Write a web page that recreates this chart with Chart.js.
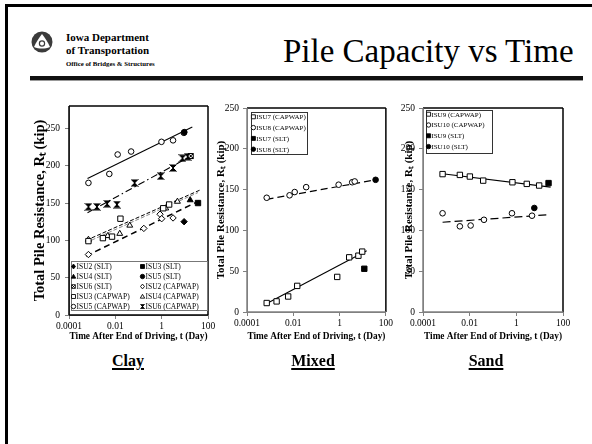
<!DOCTYPE html>
<html><head><meta charset="utf-8">
<script src="https://cdn.jsdelivr.net/npm/chart.js@4/dist/chart.umd.min.js"></script>
<style>
html,body{margin:0;padding:0;background:#fff;}
body{width:592px;height:444px;position:relative;overflow:hidden;font-family:'Liberation Serif','Times New Roman',serif;color:#000;}
.abs{position:absolute;white-space:nowrap;}
canvas{position:absolute;}
.cat{position:absolute;top:352px;font-weight:bold;font-size:16px;line-height:18px;text-decoration:underline;text-decoration-thickness:2px;text-underline-offset:2px;transform:translateX(-50%);white-space:nowrap;}
</style></head><body>
<div class="abs" style="left:5px;top:4px;width:3px;height:440px;background:#000"></div>
<div class="abs" style="left:5px;top:4px;width:587px;height:3px;background:#000"></div>
<svg class="abs" style="left:31px;top:31px" width="22" height="22" viewBox="0 0 22 22">
  <circle cx="11" cy="11" r="10.5" fill="#3b3b3b"/>
  <path d="M11 3 C14 7 17 11 19 16 C14 18 8 18 3 16 C5 11 8 7 11 3Z" fill="#fff"/>
  <circle cx="11" cy="12.5" r="2.6" fill="none" stroke="#3b3b3b" stroke-width="1.2"/>
</svg>
<div class="abs" style="left:66px;top:31px;font-weight:bold;font-size:11px;line-height:13px">Iowa Department<br>of Transportation</div>
<div class="abs" style="left:66px;top:60px;font-weight:bold;font-size:6.8px;line-height:8px">Office of Bridges &amp; Structures</div>
<div class="abs" style="left:283px;top:35px;font-size:33px;line-height:33px">Pile Capacity vs Time</div>
<div class="abs" style="left:30px;top:76px;width:553px;height:4px;background:#111"></div>
<div class="abs" style="left:30px;top:80px;width:553px;height:1px;background:#999"></div>

<canvas id="clay" width="222" height="260" style="left:0px;top:90px"></canvas>
<canvas id="mixed" width="205" height="260" style="left:190px;top:90px"></canvas>
<canvas id="sand" width="205" height="260" style="left:370px;top:90px"></canvas>

<div class="cat" style="left:128px">Clay</div>
<div class="cat" style="left:313px">Mixed</div>
<div class="cat" style="left:486px">Sand</div>

<script>
// ---- axis ticks ----
const xTickValues = [0.0001, 0.01, 1, 100];
const xTickLabels = ['0.0001', '0.01', '1', '100'];
const yTickValues = [0, 50, 100, 150, 200, 250];

// ---- Clay (t in days, R in kip) ----
const clayIsu2SltT = [9.3];   const clayIsu2SltR = [125];
const clayIsu3SltT = [37];    const clayIsu3SltR = [150];
const clayIsu4SltT = [17];    const clayIsu4SltR = [154];
const clayIsu5SltT = [9.5];   const clayIsu5SltR = [245];
const clayIsu6SltT = [18];    const clayIsu6SltR = [213];
const clayIsu2CapT = [0.00069, 0.17, 0.85, 1.0, 3.1];
const clayIsu2CapR = [81, 116, 135, 129, 130];
const clayIsu3CapT = [0.00069, 0.0029, 0.0072, 0.0166, 1.17, 2.1];
const clayIsu3CapR = [99, 103, 105, 129, 143, 148];
const clayIsu4CapT = [0.00069, 0.0047, 0.0155, 0.042, 1.5, 4.8];
const clayIsu4CapR = [101, 106, 109, 120, 143, 152];
const clayIsu5CapT = [0.00069, 0.0055, 0.0126, 0.048, 0.98, 3.1, 9.1];
const clayIsu5CapR = [177, 189, 215, 219, 232, 234, 244];
const clayIsu6CapT = [0.00069, 0.0016, 0.0044, 0.0117, 0.068, 0.91, 3.1, 7.9, 13.2];
const clayIsu6CapR = [145, 145, 149, 148, 177, 186, 197, 210, 212];
// trend lines (end points)
const clayIsu5TrendT = [0.00063, 21];  const clayIsu5TrendR = [183, 252];
const clayIsu6TrendT = [0.00063, 21];  const clayIsu6TrendR = [137, 214];
const clayIsu4TrendT = [0.00055, 50];  const clayIsu4TrendR = [100, 168];
const clayIsu3TrendT = [0.00055, 37];  const clayIsu3TrendR = [97, 164];
const clayIsu2TrendT = [0.00055, 42];  const clayIsu2TrendR = [79, 153];

// ---- Mixed ----
const mixIsu7CapT = [0.00071, 0.0019, 0.006, 0.0148, 0.79, 2.6, 6.5, 9.5];
const mixIsu7CapR = [11, 13, 19, 32, 43, 67, 69, 74];
const mixIsu8CapT = [0.00071, 0.0069, 0.0115, 0.036, 0.91, 3.5, 4.5];
const mixIsu8CapR = [140, 143, 147, 153, 156, 159, 160];
const mixIsu7SltT = [11.7];  const mixIsu7SltR = [53];
const mixIsu8SltT = [36];    const mixIsu8SltR = [162];
const mixIsu7TrendT = [0.00068, 14.8]; const mixIsu7TrendR = [10, 75];
const mixIsu8TrendT = [0.0007, 36];    const mixIsu8TrendR = [138, 162];

// ---- Sand ----
const sandIsu9CapT = [0.00069, 0.0038, 0.0102, 0.038, 0.68, 2.8, 9.5];
const sandIsu9CapR = [169, 168, 166, 161, 159, 157, 155];
const sandIsu10CapT = [0.00069, 0.0038, 0.011, 0.041, 0.65, 4.7];
const sandIsu10CapR = [121, 105, 106, 113, 121, 118];
const sandIsu9SltT = [24];   const sandIsu9SltR = [158];
const sandIsu10SltT = [5.9]; const sandIsu10SltR = [127.5];
const sandIsu9TrendT = [0.00069, 29.5];  const sandIsu9TrendR = [169.5, 153];
const sandIsu10TrendT = [0.00069, 19.5]; const sandIsu10TrendR = [110, 119];

// ---------------------------------------------------------------
const FONT = "'Liberation Serif','Times New Roman',serif";
function pts(t, R) { return t.map((x, i) => ({x: x, y: R[i]})); }

function makeImg(size, draw) {
  const c = document.createElement('canvas');
  c.width = size; c.height = size;
  draw(c.getContext('2d'), size);
  return c;
}
const hourglass = makeImg(8, (g) => {
  g.fillStyle = '#000'; g.strokeStyle = '#000'; g.lineWidth = 1;
  g.beginPath(); g.moveTo(0.5, 0.5); g.lineTo(7.5, 0.5); g.lineTo(4, 4); g.closePath(); g.fill();
  g.beginPath(); g.moveTo(0.5, 7.5); g.lineTo(7.5, 7.5); g.lineTo(4, 4); g.closePath(); g.fill();
  g.beginPath(); g.moveTo(0.5, 0.5); g.lineTo(7.5, 7.5); g.moveTo(7.5, 0.5); g.lineTo(0.5, 7.5); g.stroke();
});
const boxX = makeImg(8, (g) => {
  g.fillStyle = '#fff'; g.fillRect(1, 1, 6, 6);
  g.strokeStyle = '#000'; g.lineWidth = 1;
  g.strokeRect(1.5, 1.5, 5, 5);
  g.beginPath(); g.moveTo(1.5, 1.5); g.lineTo(6.5, 6.5); g.moveTo(6.5, 1.5); g.lineTo(1.5, 6.5); g.stroke();
});

const RAD = {circle: 2.8, rect: 3.8, triangle: 3.4, rectRot: 3.2};
function markDs(label, t, R, style, filled) {
  const r = (typeof style === 'string') ? RAD[style] : 4;
  return {label: label, data: pts(t, R), showLine: false, order: 0,
    pointStyle: style, pointRadius: r, pointHoverRadius: r,
    pointBackgroundColor: filled ? '#000' : '#fff', pointBorderColor: '#000', pointBorderWidth: 1,
    _filled: filled};
}
function trendDs(label, t, R, dash, color, width) {
  return {label: label, data: pts(t, R), showLine: true, order: 1, pointRadius: 0, pointHoverRadius: 0,
    borderColor: color, borderWidth: width, borderDash: dash, fill: false, _trend: true};
}

function drawMarker(ctx, style, cx, cy, r, filled) {
  if (style instanceof HTMLCanvasElement) {
    const s = r * 2.6;
    ctx.drawImage(style, cx - s / 2, cy - s / 2, s, s);
    return;
  }
  ctx.beginPath();
  if (style === 'circle') ctx.arc(cx, cy, r, 0, Math.PI * 2);
  else if (style === 'rect') ctx.rect(cx - r * 0.9, cy - r * 0.9, r * 1.8, r * 1.8);
  else if (style === 'triangle') { ctx.moveTo(cx, cy - r); ctx.lineTo(cx + r, cy + r * 0.75); ctx.lineTo(cx - r, cy + r * 0.75); ctx.closePath(); }
  else if (style === 'rectRot') { ctx.moveTo(cx, cy - r * 1.1); ctx.lineTo(cx + r * 0.9, cy); ctx.lineTo(cx, cy + r * 1.1); ctx.lineTo(cx - r * 0.9, cy); ctx.closePath(); }
  ctx.fillStyle = filled ? '#000' : '#fff'; ctx.fill();
  ctx.strokeStyle = '#000'; ctx.lineWidth = 0.9; ctx.stroke();
}

const boxLegendPlugin = {
  id: 'boxLegend',
  afterDraw(chart, args, o) {
    if (!o || !o.items) return;
    const ca = chart.chartArea, ctx = chart.ctx;
    const x0 = ca.left + o.x, y0 = ca.top + o.y;
    ctx.save();
    ctx.fillStyle = '#fff'; ctx.fillRect(x0, y0, o.w, o.h);
    ctx.strokeStyle = o.border; ctx.lineWidth = 1;
    ctx.strokeRect(Math.round(x0) + 0.5, Math.round(y0) + 0.5, o.w, o.h);
    ctx.font = o.font + 'px ' + FONT; ctx.textBaseline = 'middle'; ctx.textAlign = 'left';
    o.items.forEach((lab, i) => {
      const ds = chart.data.datasets.find(d => d.label === lab);
      const col = i % o.cols, row = Math.floor(i / o.cols);
      const cx = x0 + o.markerX + col * o.colW, cy = y0 + o.firstRow + row * o.rowH;
      drawMarker(ctx, ds.pointStyle, cx, cy, o.markerR, ds._filled);
      ctx.fillStyle = '#000';
      ctx.fillText(lab, cx + o.textGap, cy + 0.5);
    });
    ctx.restore();
  }
};
const framePlugin = {
  id: 'frame',
  afterDatasetsDraw(chart, args, o) {
    const {left, top, right, bottom} = chart.chartArea, ctx = chart.ctx;
    ctx.save(); ctx.lineWidth = o.width;
    const seg = (c, x1, y1, x2, y2) => { ctx.strokeStyle = c; ctx.beginPath(); ctx.moveTo(x1, y1); ctx.lineTo(x2, y2); ctx.stroke(); };
    seg(o.top, left, top, right, top);
    seg(o.right, right, top, right, bottom);
    seg(o.bottom, left, bottom, right, bottom);
    seg(o.left, left, top, left, bottom);
    ctx.restore();
  }
};

function makeChart(id, c) {
  return new Chart(document.getElementById(id), {
    type: 'scatter',
    data: {datasets: c.datasets},
    options: {
      responsive: false, animation: false, devicePixelRatio: 1,
      layout: {padding: c.padding},
      events: [],
      plugins: {legend: {display: false}, tooltip: {enabled: false}, boxLegend: c.legend, frame: c.frame},
      scales: {
        x: {
          type: 'logarithmic', min: 0.0001, max: 100,
          afterBuildTicks: (s) => { s.ticks = xTickValues.map(v => ({value: v})); },
          afterFit: (s) => { s.height = c.xH; },
          ticks: {autoSkip: false, maxRotation: 0, minRotation: 0, padding: 2, color: '#000',
            font: {family: FONT, size: 9.5},
            callback: (v) => { const i = xTickValues.indexOf(v); return i >= 0 ? xTickLabels[i] : ''; }},
          grid: {drawOnChartArea: false, drawTicks: true, tickLength: 4, color: '#808080', lineWidth: 1},
          border: {display: true, color: '#808080', width: 1},
          title: {display: true, text: 'Time After End of Driving, t (Day)', color: '#000',
            font: {family: FONT, size: 9.3, weight: 'bold'}, padding: {top: 0, bottom: 7.4}}
        },
        y: {
          type: 'linear', min: 0, max: c.yMax,
          afterBuildTicks: (s) => { s.ticks = yTickValues.map(v => ({value: v})); },
          afterFit: (s) => { s.width = c.yW; },
          ticks: {padding: c.yTickPad, color: '#000', font: {family: FONT, size: 9.5}},
          grid: {drawOnChartArea: false, drawTicks: true, tickLength: 4, color: '#808080', lineWidth: 1},
          border: {display: true, color: '#808080', width: 1},
          title: {display: true, text: 'Total Pile Resistance, R\u209C (kip)', color: '#000',
            font: {family: FONT, size: c.yTitleSize, weight: 'bold'}, padding: {top: c.yTitlePad, bottom: 0}}
        }
      }
    },
    plugins: [framePlugin, boxLegendPlugin]
  });
}

// ---- Clay ----
makeChart('clay', {
  padding: {left: 0, top: 16, right: 14, bottom: 0},
  yW: 69, xH: 35, yMax: 280, yTitleSize: 14.5, yTitlePad: 31.5, yTickPad: 5,
  frame: {width: 1.5, top: '#000', right: '#000', bottom: '#000', left: '#000'},
  datasets: [
    markDs('ISU2 (SLT)', clayIsu2SltT, clayIsu2SltR, 'rectRot', true),
    markDs('ISU3 (SLT)', clayIsu3SltT, clayIsu3SltR, 'rect', true),
    markDs('ISU4 (SLT)', clayIsu4SltT, clayIsu4SltR, 'triangle', true),
    markDs('ISU5 (SLT)', clayIsu5SltT, clayIsu5SltR, 'circle', true),
    markDs('ISU6 (SLT)', clayIsu6SltT, clayIsu6SltR, boxX, true),
    markDs('ISU2 (CAPWAP)', clayIsu2CapT, clayIsu2CapR, 'rectRot', false),
    markDs('ISU3 (CAPWAP)', clayIsu3CapT, clayIsu3CapR, 'rect', false),
    markDs('ISU4 (CAPWAP)', clayIsu4CapT, clayIsu4CapR, 'triangle', false),
    markDs('ISU5 (CAPWAP)', clayIsu5CapT, clayIsu5CapR, 'circle', false),
    markDs('ISU6 (CAPWAP)', clayIsu6CapT, clayIsu6CapR, hourglass, true),
    trendDs('ISU5 trend', clayIsu5TrendT, clayIsu5TrendR, [], '#000', 1.1),
    trendDs('ISU6 trend', clayIsu6TrendT, clayIsu6TrendR, [7, 3, 1.5, 3], '#000', 1.1),
    trendDs('ISU4 trend', clayIsu4TrendT, clayIsu4TrendR, [4, 2], '#000', 1),
    trendDs('ISU3 trend', clayIsu3TrendT, clayIsu3TrendR, [4, 2], '#888', 1),
    trendDs('ISU2 trend', clayIsu2TrendT, clayIsu2TrendR, [6, 4], '#000', 1.5)
  ],
  legend: {x: 2, y: 155, w: 136, h: 49, cols: 2, colW: 69, rowH: 10, firstRow: 5.5,
    markerX: 2.5, markerR: 2.2, textGap: 3, font: 7.5, border: '#777',
    items: ['ISU2 (SLT)', 'ISU3 (SLT)', 'ISU4 (SLT)', 'ISU5 (SLT)', 'ISU6 (SLT)',
            'ISU2 (CAPWAP)', 'ISU3 (CAPWAP)', 'ISU4 (CAPWAP)', 'ISU5 (CAPWAP)', 'ISU6 (CAPWAP)']}
});

// ---- Mixed ----
makeChart('mixed', {
  padding: {left: 0, top: 18, right: 9, bottom: 0},
  yW: 57, xH: 38, yMax: 250, yTitleSize: 11, yTitlePad: 24.4, yTickPad: 4,
  frame: {width: 1.5, top: '#000', right: '#000', bottom: '#808080', left: '#808080'},
  datasets: [
    markDs('ISU7 (CAPWAP)', mixIsu7CapT, mixIsu7CapR, 'rect', false),
    markDs('ISU8 (CAPWAP)', mixIsu8CapT, mixIsu8CapR, 'circle', false),
    markDs('ISU7 (SLT)', mixIsu7SltT, mixIsu7SltR, 'rect', true),
    markDs('ISU8 (SLT)', mixIsu8SltT, mixIsu8SltR, 'circle', true),
    trendDs('ISU7 trend', mixIsu7TrendT, mixIsu7TrendR, [], '#000', 1.1),
    trendDs('ISU8 trend', mixIsu8TrendT, mixIsu8TrendR, [7, 4], '#000', 1.2)
  ],
  legend: {x: 4, y: 4, w: 56, h: 42, cols: 1, colW: 0, rowH: 10.8, firstRow: 4.8,
    markerX: 2.4, markerR: 2.2, textGap: 2.8, font: 7, border: '#333',
    items: ['ISU7 (CAPWAP)', 'ISU8 (CAPWAP)', 'ISU7 (SLT)', 'ISU8 (SLT)']}
});

// ---- Sand ----
makeChart('sand', {
  padding: {left: 0, top: 18, right: 12, bottom: 0},
  yW: 53, xH: 38, yMax: 250, yTitleSize: 11, yTitlePad: 32.4, yTickPad: 4,
  frame: {width: 1.5, top: '#000', right: '#000', bottom: '#808080', left: '#808080'},
  datasets: [
    markDs('ISU9 (CAPWAP)', sandIsu9CapT, sandIsu9CapR, 'rect', false),
    markDs('ISU10 (CAPWAP)', sandIsu10CapT, sandIsu10CapR, 'circle', false),
    markDs('ISU9 (SLT)', sandIsu9SltT, sandIsu9SltR, 'rect', true),
    markDs('ISU10 (SLT)', sandIsu10SltT, sandIsu10SltR, 'circle', true),
    trendDs('ISU9 trend', sandIsu9TrendT, sandIsu9TrendR, [], '#000', 1.1),
    trendDs('ISU10 trend', sandIsu10TrendT, sandIsu10TrendR, [8, 4], '#000', 1.2)
  ],
  legend: {x: 3, y: 2, w: 66, h: 43, cols: 1, colW: 0, rowH: 10.8, firstRow: 4.2,
    markerX: 2.6, markerR: 2.2, textGap: 2.8, font: 7, border: '#333',
    items: ['ISU9 (CAPWAP)', 'ISU10 (CAPWAP)', 'ISU9 (SLT)', 'ISU10 (SLT)']}
});
</script>
</body></html>
